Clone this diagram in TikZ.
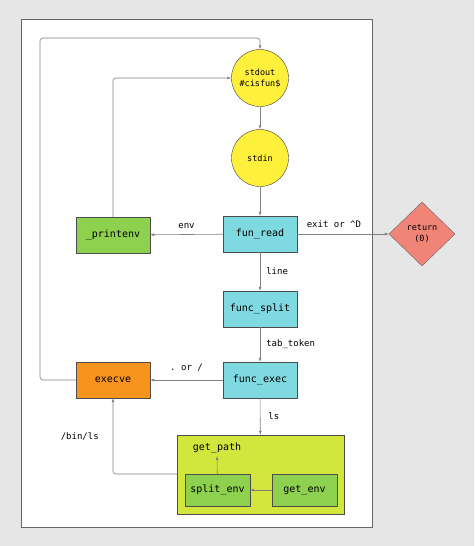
\documentclass[tikz,border=0pt]{standalone}
\usepackage{fontspec}
\setmonofont{DejaVu Sans Mono}
\usetikzlibrary{shapes}
\usetikzlibrary{shapes.geometric}
\usetikzlibrary{arrows.meta}
\usetikzlibrary{calc}
\definecolor{bgGrey}{HTML}{E6E6E6}
\definecolor{cYellow}{HTML}{FFF03C}
\definecolor{cCyan}{HTML}{7FD9E0}
\definecolor{cGreen}{HTML}{8DD14F}
\definecolor{cOrange}{HTML}{F7941E}
\definecolor{cRed}{HTML}{F08577}
\definecolor{cLime}{HTML}{D3E63C}
\begin{document}
\begin{tikzpicture}[x=1pt, y=-1pt, font=\ttfamily,
  every node/.style={inner sep=0pt},
  circ/.style={draw=black!75, circle, fill=cYellow, minimum size=57pt, font=\ttfamily\fontsize{8.5}{11}\selectfont, align=center},
  box/.style={draw=black!70, fill=cCyan, minimum width=74pt, minimum height=36pt, font=\ttfamily\fontsize{10}{12}\selectfont},
  lbl/.style={font=\ttfamily\fontsize{9}{11}\selectfont},
  conn/.style={draw=black!50, line width=0.6pt, rounded corners=3pt, -{Latex[length=4pt,width=3pt]}}]
\fill[bgGrey] (0,0) rectangle (474,546);
\draw[fill=white, draw=black!60, line width=0.8pt] (21,19) rectangle (372,527);
% nodes
\node[circ] (N1) at (260,78) {stdout\\\#cisfun\$};
\node[circ] (N2) at (260,158) {stdin};
\node[box] (N3) at (260,234) {fun\_read};
\node[box, fill=cGreen] (N4) at (113,235) {\_printenv};
\node[draw=black!60, diamond, fill=cRed, minimum width=66pt, minimum height=64pt, font=\ttfamily\fontsize{8.5}{11}\selectfont, align=center] (N5) at (422,234) {return\\(0)};
\node[box] (N6) at (260,309) {func\_split};
\node[box] (N7) at (260,380) {func\_exec};
\node[box, fill=cOrange] (N8) at (113,380) {execve};
\node[draw=black!70, fill=cLime, minimum width=167pt, minimum height=79pt] (N9) at (260.5,474.5) {};
\node[lbl, font=\ttfamily\fontsize{10}{12}\selectfont] (N10) at (217,448) {get\_path};
\node[box, fill=cGreen, minimum width=65pt, minimum height=32pt] (N11) at (217.5,490) {split\_env};
\node[box, fill=cGreen, minimum width=65pt, minimum height=32pt] (N12) at (304.5,490) {get\_env};
% connectors
\draw[conn] (N1) -- (N2);
\draw[conn] (N2) -- (N3);
\draw[conn] (N3) -- (N4) node[lbl, midway, above=6pt] {env};
\draw[conn] (N3) -- (N5) node[lbl, pos=0.4, above=6pt] {exit or \textasciicircum D};
\draw[conn] (N3) -- (N6) node[lbl, midway, right=6pt] {line};
\draw[conn] (N6) -- (N7) node[lbl, midway, right=6pt] {tab\_token};
\draw[conn] (N7) -- (N8) node[lbl, midway, above=8pt] {. or /};
\draw[conn] (N7) -- (N9) node[lbl, midway, right=8pt] {ls};
\draw[conn] (N11) -- ($(N10.south)+(0,3)$);
\draw[conn] (N12) -- (N11);
\draw[conn] (N9.west |- 0,474) -| (N8.south) node[lbl, pos=0.75, left=14pt] {/bin/ls};
\draw[conn] (N4.north) |- (N1.west);
\draw[conn] (N8.west) -| (40,38) -| (N1.north);
\end{tikzpicture}
\end{document}
